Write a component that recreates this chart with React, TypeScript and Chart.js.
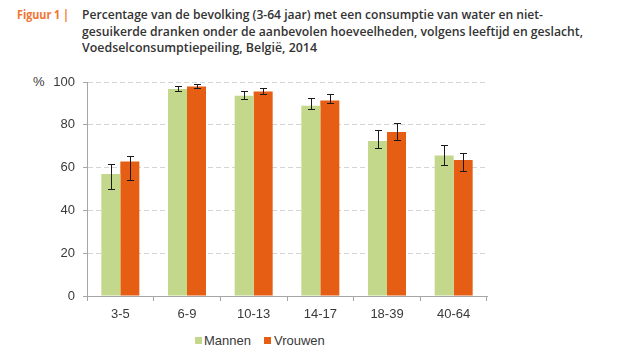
import React, { useEffect, useLayoutEffect, useRef } from "react";
import { Chart, registerables } from "chart.js";

Chart.register(...registerables);

const categories = ["3-5", "6-9", "10-13", "14-17", "18-39", "40-64"];
const mannen = [57.0, 96.7, 93.6, 88.9, 72.4, 65.7];
const mannenLow = [49.9, 95.9, 92.2, 87.4, 69.3, 61.2];
const mannenHigh = [61.8, 98.3, 95.9, 92.6, 77.4, 70.7];
const vrouwen = [62.9, 97.9, 95.6, 91.4, 76.6, 63.5];
const vrouwenLow = [54.1, 97.3, 94.4, 90.2, 73.0, 58.4];
const vrouwenHigh = [65.5, 98.9, 97.3, 94.5, 80.8, 66.9];
const yTicks = [0, 20, 40, 60, 80, 100];
const seriesNames = ["Mannen", "Vrouwen"];
const figLabel = "Figuur 1 |";
const titleLines = [
  "Percentage van de bevolking (3-64 jaar) met een consumptie van water en niet-",
  "gesuikerde dranken onder de aanbevolen hoeveelheden, volgens leeftijd en geslacht,",
  "Voedselconsumptiepeiling, België, 2014",
];

const GREEN = "#c3d88a";
const ORANGE = "#e65e14";
const AXIS = "#a6a6a6";
const TEXT = "#3a3a3a";
const AXIS_FONT = "'Liberation Sans', Arial, sans-serif";
const TITLE_FONT = "'Open Sans', 'Noto Sans', sans-serif";

const errorBarPlugin = {
  id: "errorBars",
  afterDatasetsDraw(chart: any) {
    const ctx = chart.ctx;
    const yScale = chart.scales.y;
    chart.data.datasets.forEach((ds: any, i: number) => {
      const meta = chart.getDatasetMeta(i);
      meta.data.forEach((bar: any, j: number) => {
        const x = Math.round(bar.x) + 0.5;
        const yl = Math.round(yScale.getPixelForValue(ds.errLow[j])) + 0.5;
        const yh = Math.round(yScale.getPixelForValue(ds.errHigh[j])) + 0.5;
        ctx.save();
        ctx.strokeStyle = "#1a1a1a";
        ctx.lineWidth = 1;
        ctx.beginPath();
        ctx.moveTo(x, yl);
        ctx.lineTo(x, yh);
        ctx.moveTo(x - 3.5, yl);
        ctx.lineTo(x + 3.5, yl);
        ctx.moveTo(x - 3.5, yh);
        ctx.lineTo(x + 3.5, yh);
        ctx.stroke();
        ctx.restore();
      });
    });
  },
};

function FitText(props: { text: string; width: number; style: React.CSSProperties }) {
  const ref = useRef<HTMLSpanElement>(null);
  useLayoutEffect(() => {
    const el = ref.current;
    if (!el) return;
    el.style.transform = "none";
    const w = el.getBoundingClientRect().width;
    if (w > 0) el.style.transform = `scaleX(${props.width / w})`;
  }, [props.text, props.width]);
  return (
    <span
      ref={ref}
      style={{
        display: "inline-block",
        whiteSpace: "nowrap",
        transformOrigin: "left center",
        ...props.style,
      }}
    >
      {props.text}
    </span>
  );
}

export default function App() {
  const canvasRef = useRef<HTMLCanvasElement>(null);

  useEffect(() => {
    document.body.style.margin = "0";
    const canvas = canvasRef.current;
    if (!canvas) return;
    const chart = new Chart(canvas, {
      type: "bar",
      data: {
        labels: categories,
        datasets: [
          {
            label: seriesNames[0],
            data: mannen,
            backgroundColor: GREEN,
            borderWidth: 0,
            categoryPercentage: 0.57,
            barPercentage: 1.0,
            errLow: mannenLow,
            errHigh: mannenHigh,
          } as any,
          {
            label: seriesNames[1],
            data: vrouwen,
            backgroundColor: ORANGE,
            borderWidth: 0,
            categoryPercentage: 0.57,
            barPercentage: 1.0,
            errLow: vrouwenLow,
            errHigh: vrouwenHigh,
          } as any,
        ],
      },
      options: {
        animation: false,
        responsive: true,
        maintainAspectRatio: false,
        layout: { padding: { top: 22, left: 0, right: 35, bottom: 0 } },
        plugins: {
          legend: { display: false },
          title: { display: false },
          tooltip: { enabled: false },
        },
        scales: {
          x: {
            afterFit: (s: any) => {
              s.height = 30;
            },
            grid: {
              display: true,
              drawOnChartArea: false,
              drawTicks: true,
              tickLength: 5,
              offset: true,
              color: AXIS,
              tickColor: AXIS,
            },
            border: { display: true, color: AXIS, width: 1 },
            ticks: {
              color: TEXT,
              font: { family: AXIS_FONT, size: 13 },
              padding: 6,
              maxRotation: 0,
            },
          },
          y: {
            min: 0,
            max: 100,
            afterFit: (s: any) => {
              s.width = 87;
            },
            afterBuildTicks: (s: any) => {
              s.ticks = yTicks.map((v) => ({ value: v }));
            },
            grid: {
              display: true,
              drawTicks: true,
              tickLength: 4,
              color: (c: any) => (c.tick && c.tick.value === 0 ? "rgba(0,0,0,0)" : "#d4d4d4"),
              tickColor: AXIS,
              tickBorderDash: [],
            },
            border: { display: true, color: AXIS, width: 1, dash: [5, 3] },
            ticks: {
              color: TEXT,
              font: { family: AXIS_FONT, size: 13 },
              padding: 8,
            },
          },
        },
      },
      plugins: [errorBarPlugin],
    });
    return () => chart.destroy();
  }, []);

  const titleStyle: React.CSSProperties = {
    fontFamily: TITLE_FONT,
    fontWeight: 600,
    fontSize: "12.3px",
    color: "#333333",
  };
  const lineTargets = [461, 501, 235];

  return (
    <div style={{ position: "relative", width: 633, height: 356, background: "#fff", overflow: "hidden" }}>
      <div style={{ position: "absolute", left: 17, top: 6, lineHeight: "16.5px" }}>
        <FitText text={figLabel} width={52} style={{ ...titleStyle, fontWeight: 700, color: "#f07433" }} />
      </div>
      <div style={{ position: "absolute", left: 82, top: 6, lineHeight: "16.5px" }}>
        {titleLines.map((t, i) => (
          <div key={i} style={{ height: "16.5px" }}>
            <FitText text={t} width={lineTargets[i]} style={titleStyle} />
          </div>
        ))}
      </div>
      <div
        style={{
          position: "absolute",
          left: 33,
          top: 74,
          fontFamily: AXIS_FONT,
          fontSize: 13,
          lineHeight: "16px",
          color: TEXT,
        }}
      >
        %
      </div>
      <div style={{ position: "absolute", left: 0, top: 60, width: 522, height: 266 }}>
        <canvas ref={canvasRef} />
      </div>
      <div
        style={{
          position: "absolute",
          left: 195,
          top: 332,
          height: 16,
          display: "flex",
          alignItems: "center",
          fontFamily: AXIS_FONT,
          fontSize: 13,
          color: TEXT,
        }}
      >
        <span style={{ display: "inline-block", width: 7, height: 7, background: GREEN, marginRight: 2 }} />
        <span style={{ marginRight: 13 }}>{seriesNames[0]}</span>
        <span style={{ display: "inline-block", width: 7, height: 7, background: ORANGE, marginRight: 3 }} />
        <span>{seriesNames[1]}</span>
      </div>
    </div>
  );
}
